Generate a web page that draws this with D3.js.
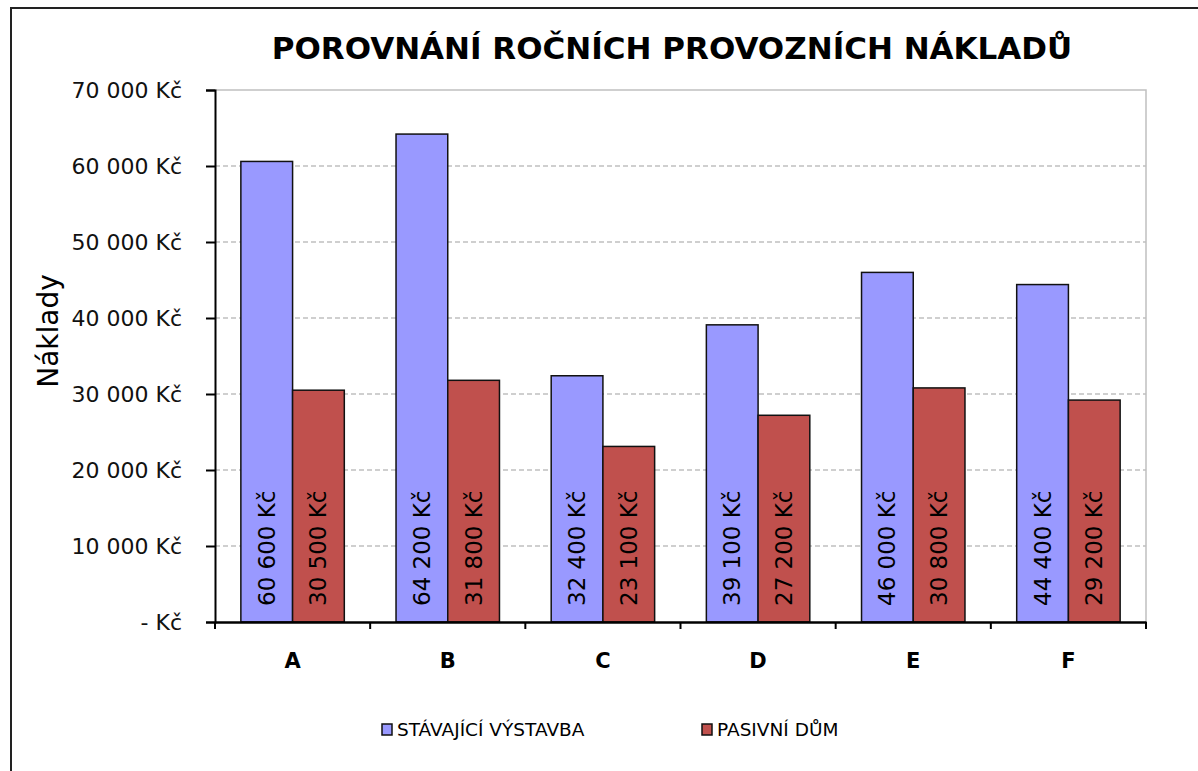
<!DOCTYPE html>
<html>
<head>
<meta charset="utf-8">
<script src="https://cdn.jsdelivr.net/npm/d3@7"></script>
<style>
  body { margin: 0; background: #fff; }
  svg { font-family: "DejaVu Sans", sans-serif; }
</style>
</head>
<body>
<svg id="chart" width="1198" height="771"></svg>
<script>
// data
var categories = ["A", "B", "C", "D", "E", "F"];
var seriesNames = ["STÁVAJÍCÍ VÝSTAVBA", "PASIVNÍ DŮM"];
var stavajici = [60600, 64200, 32400, 39100, 46000, 44400];
var pasivni = [30500, 31800, 23100, 27200, 30800, 29200];
var yTicks = [0, 10000, 20000, 30000, 40000, 50000, 60000, 70000];
var colors = ["#9999FF", "#C0504D"];

function drawChart() {
    var svg = d3.select("#chart");

    // outer frame
    svg.append("rect")
        .attr("x", 11).attr("y", 8)
        .attr("width", 1200).attr("height", 780)
        .attr("fill", "none").attr("stroke", "#222").attr("stroke-width", 2);

    var pLeft = 215, pRight = 1146, pTop = 90, pBottom = 622;

    var x = d3.scaleBand().domain(categories).range([pLeft, pRight]).padding(0);
    var x1 = d3.scaleBand().domain([0, 1]).range([0, x.bandwidth()]).paddingOuter(0.5).paddingInner(0);
    var y = d3.scaleLinear().domain([0, 70000]).range([pBottom, pTop]);

    function fmt(v) {
        if (v == 0) return "- Kč";
        return d3.format(",")(v).replace(/,/g, " ") + " Kč";
    }

    // gridlines
    svg.append("g").selectAll("line")
        .data(yTicks.filter(function (d) { return d > 0 && d < 70000; }))
        .enter().append("line")
        .attr("x1", pLeft).attr("x2", pRight)
        .attr("y1", function (d) { return y(d); })
        .attr("y2", function (d) { return y(d); })
        .attr("stroke", "#c0c0c0").attr("stroke-width", 1.3)
        .style("stroke-dasharray", "5,3");

    // plot border top/right
    svg.append("path")
        .attr("d", "M" + pLeft + "," + pTop + "H" + pRight + "V" + pBottom)
        .attr("fill", "none").attr("stroke", "#c0c0c0").attr("stroke-width", 1.5);

    // bars
    var rows = categories.map(function (c, i) { return { cat: c, vals: [stavajici[i], pasivni[i]] }; });
    var groups = svg.append("g").selectAll("g")
        .data(rows).enter().append("g")
        .attr("transform", function (d) { return "translate(" + x(d.cat) + ",0)"; });

    groups.selectAll("rect")
        .data(function (d) { return d.vals; })
        .enter().append("rect")
        .attr("x", function (d, i) { return x1(i); })
        .attr("y", function (d) { return y(d); })
        .attr("width", x1.bandwidth())
        .attr("height", function (d) { return y(0) - y(d); })
        .attr("fill", function (d, i) { return colors[i]; })
        .attr("stroke", "#111").attr("stroke-width", 1.5);

    groups.selectAll("text")
        .data(function (d) { return d.vals; })
        .enter().append("text")
        .attr("transform", function (d, i) {
            return "translate(" + (x1(i) + x1.bandwidth() / 2 + 8) + "," + (pBottom - 16) + ") rotate(-90)";
        })
        .attr("text-anchor", "start")
        .style("font-size", "23px")
        .attr("fill", "#000")
        .text(function (d) { return fmt(d); });

    // y axis
    var yAxis = svg.append("g")
        .attr("transform", "translate(" + pLeft + ",0)")
        .call(d3.axisLeft(y).tickValues(yTicks).tickSize(9).tickPadding(24).tickFormat(fmt));
    yAxis.select(".domain").attr("stroke", "#000").attr("stroke-width", 2);
    yAxis.selectAll(".tick line").attr("stroke", "#000").attr("stroke-width", 2);
    yAxis.selectAll("text").style("font-size", "22px").attr("fill", "#111").attr("font-family", "DejaVu Sans");

    // x axis
    var xAxis = svg.append("g")
        .attr("transform", "translate(0," + pBottom + ")")
        .call(d3.axisBottom(x).tickSize(0).tickPadding(31));
    xAxis.select(".domain").attr("stroke", "#000").attr("stroke-width", 2.5);
    xAxis.selectAll("text").style("font-size", "21px").style("font-weight", "bold").attr("fill", "#000").attr("font-family", "DejaVu Sans");
    svg.append("g").selectAll("line")
        .data(categories.concat(["end"]))
        .enter().append("line")
        .attr("x1", function (d) { return d == "end" ? pRight : x(d); })
        .attr("x2", function (d) { return d == "end" ? pRight : x(d); })
        .attr("y1", pBottom).attr("y2", pBottom + 7)
        .attr("stroke", "#000").attr("stroke-width", 2);

    // title
    svg.append("text")
        .attr("x", 672).attr("y", 59)
        .attr("text-anchor", "middle")
        .style("font-size", "31px").style("font-weight", "bold")
        .text("POROVNÁNÍ ROČNÍCH PROVOZNÍCH NÁKLADŮ");

    // y label
    svg.append("text")
        .attr("transform", "translate(58,331) rotate(-90)")
        .attr("text-anchor", "middle")
        .style("font-size", "28px")
        .text("Náklady");

    // legend
    var legX = [382, 702];
    var leg = svg.append("g").selectAll("g")
        .data(seriesNames).enter().append("g")
        .attr("transform", function (d, i) { return "translate(" + legX[i] + ",724)"; });
    leg.append("rect")
        .attr("width", 10).attr("height", 11)
        .attr("fill", function (d, i) { return colors[i]; })
        .attr("stroke", "#111").attr("stroke-width", 1.5);
    leg.append("text")
        .attr("x", 15).attr("y", 12)
        .style("font-size", "18.5px")
        .text(function (d) { return d; });
}

drawChart();
</script>
</body>
</html>
